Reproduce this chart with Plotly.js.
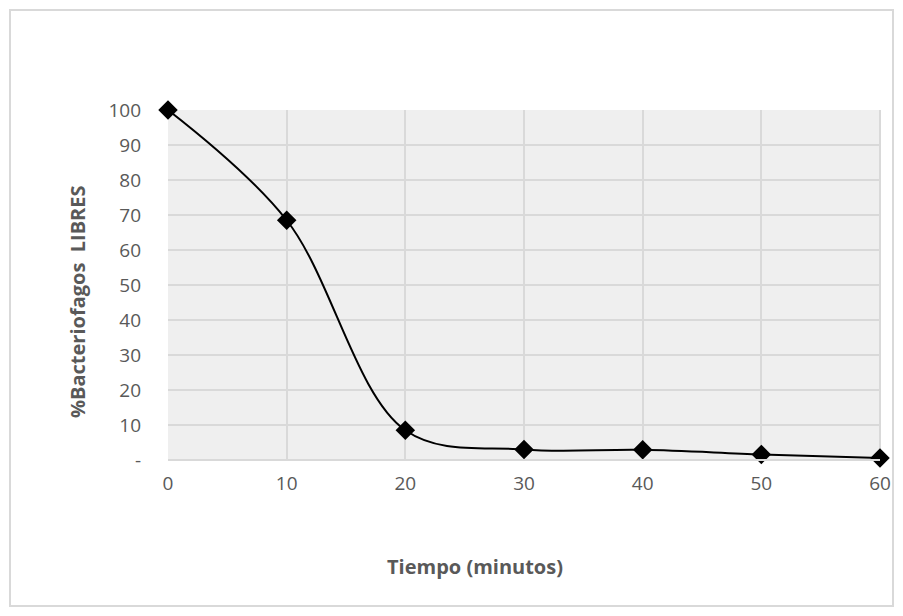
<!DOCTYPE html>
<html><head><meta charset="utf-8">
<script src="https://cdn.plot.ly/plotly-3.0.1.min.js"></script>
<style>html,body{margin:0;padding:0;background:#fff}#chart{width:903px;height:616px}</style>
</head><body><div id="chart"></div>
<script>
const tiempo = [0, 10, 20, 30, 40, 50, 60];
const libres = [100, 68.5, 8.5, 3.0, 2.9, 1.6, 0.6];
const yTickVals = [0, 10, 20, 30, 40, 50, 60, 70, 80, 90, 100];
const yTickText = ['-', '10', '20', '30', '40', '50', '60', '70', '80', '90', '100'];
const xTickVals = [0, 10, 20, 30, 40, 50, 60];

const L = 168, R = 23, T = 110, B = 156, W = 903, H = 616;
const pw = W - L - R, ph = H - T - B;
const px = v => (v - L) / pw;
const py = v => (H - B - v) / ph;

const trace = {
  x: tiempo, y: libres, type: 'scatter', mode: 'lines+markers',
  line: {shape: 'spline', smoothing: 1, color: '#000', width: 2},
  marker: {symbol: 'diamond', size: 15, color: '#000'},
  cliponaxis: false, showlegend: false, hoverinfo: 'x+y'
};
const gridColor = '#d9d9d9';
const layout = {
  width: W, height: H,
  margin: {l: L, r: R, t: T, b: B},
  paper_bgcolor: '#fff', plot_bgcolor: '#efefef',
  font: {family: 'Open Sans, Liberation Sans, sans-serif', color: '#595959', size: 19},
  xaxis: {range: [0, 60], tickvals: xTickVals, ticks: '', showgrid: true, gridcolor: gridColor, gridwidth: 2,
          zeroline: false, showline: false, ticklabelstandoff: 10, fixedrange: true},
  yaxis: {range: [0, 100], tickvals: yTickVals, ticktext: yTickText, ticks: '', showgrid: true, gridcolor: gridColor, gridwidth: 2,
          zeroline: false, showline: false, ticklabelstandoff: 26, fixedrange: true},
  shapes: [
    {type: 'rect', xref: 'paper', yref: 'paper', x0: px(10), x1: px(893), y0: py(606), y1: py(10),
     line: {color: '#d9d9d9', width: 2}, layer: 'below'},
    {type: 'line', xref: 'paper', yref: 'paper', x0: 0, x1: 1, y0: 0, y1: 0, line: {color: gridColor, width: 2}},
    {type: 'line', xref: 'paper', yref: 'paper', x0: 1, x1: 1, y0: 0, y1: 1, line: {color: gridColor, width: 2}, layer: 'below'}
  ],
  annotations: [
    {text: '<b>Tiempo (minutos)</b>', xref: 'paper', yref: 'paper', x: px(475), y: py(566), showarrow: false,
     font: {size: 20, color: '#595959'}, xanchor: 'center', yanchor: 'middle'},
    {text: '<b>%Bacteriofagos  LIBRES</b>', xref: 'paper', yref: 'paper', x: px(77), y: py(302), showarrow: false,
     textangle: -90, font: {size: 20, color: '#595959'}, xanchor: 'center', yanchor: 'middle'}
  ]
};
Plotly.newPlot('chart', [trace], layout, {displayModeBar: false, staticPlot: true});
</script></body></html>
